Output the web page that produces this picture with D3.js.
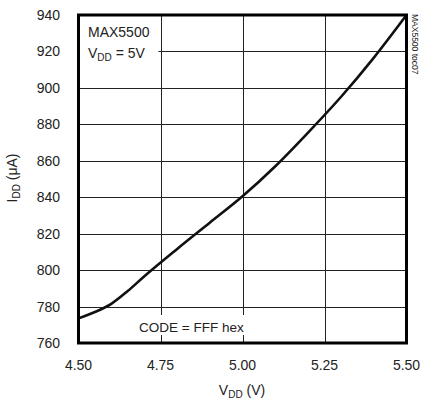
<!DOCTYPE html>
<html><head><meta charset="utf-8">
<script src="https://cdn.jsdelivr.net/npm/d3@7"></script>
<style>
html,body{margin:0;padding:0;background:#fff;}
svg{display:block;}
text{font-family:"Liberation Sans",Arial,Helvetica,sans-serif;fill:#222;}
</style></head>
<body>
<svg id="c" width="422" height="400"></svg>
<script>
const vdd = [4.50, 4.55, 4.60, 4.65, 4.70, 4.80, 4.90, 5.00, 5.10, 5.20, 5.30, 5.40, 5.50];
const idd = [773.5, 777, 781.5, 788.5, 796.5, 811.5, 826, 840.5, 857, 875.5, 895, 916.5, 940];
const xTicks = [4.50, 4.75, 5.00, 5.25, 5.50];
const yTicks = [760, 780, 800, 820, 840, 860, 880, 900, 920, 940];

const svg = d3.select("#c");
const L = 78.5, R = 406.5, T = 15, B = 343;
const x = d3.scaleLinear().domain([4.5, 5.5]).range([L, R]);
const y = d3.scaleLinear().domain([760, 940]).range([B, T]);

// grid
const g = svg.append("g");
g.selectAll("line.v").data(xTicks.slice(1, -1)).join("line")
  .attr("x1", d => Math.round(x(d)) + 0.5).attr("x2", d => Math.round(x(d)) + 0.5)
  .attr("y1", T).attr("y2", B).attr("stroke", "#222").attr("stroke-width", 1);
g.selectAll("line.h").data(yTicks.slice(1, -1)).join("line")
  .attr("y1", d => Math.round(y(d)) + 0.5).attr("y2", d => Math.round(y(d)) + 0.5)
  .attr("x1", L).attr("x2", R).attr("stroke", "#222").attr("stroke-width", 1);

// annotation backgrounds
svg.append("rect").attr("x", L).attr("y", T).attr("width", 80).attr("height", 52).attr("fill", "#fff");
svg.append("rect").attr("x", 136).attr("y", 315).attr("width", 110).attr("height", 20).attr("fill", "#fff");

// curve
const line = d3.line().x((d, i) => x(vdd[i])).y(d => y(d)).curve(d3.curveMonotoneX);
svg.append("path").attr("d", line(idd)).attr("fill", "none").attr("stroke", "#111")
  .attr("stroke-width", 2.6).attr("stroke-linejoin", "round").attr("stroke-linecap", "round");

// frame
svg.append("rect").attr("x", L).attr("y", T).attr("width", R - L).attr("height", B - T)
  .attr("fill", "none").attr("stroke", "#000").attr("stroke-width", 3);

// axes labels
svg.append("g").selectAll("text").data(yTicks).join("text")
  .attr("x", 60).attr("y", d => y(d) + 5).attr("text-anchor", "end")
  .attr("font-size", 14).text(d => d);
svg.append("g").selectAll("text").data(xTicks).join("text")
  .attr("x", d => x(d)).attr("y", 370).attr("text-anchor", "middle")
  .attr("font-size", 14).text(d => d.toFixed(2));

// annotations
svg.append("text").attr("x", 88).attr("y", 37).attr("font-size", 14).text("MAX5500");
const t2 = svg.append("text").attr("x", 88).attr("y", 58).attr("font-size", 14);
t2.append("tspan").text("V");
t2.append("tspan").attr("font-size", 10).attr("dy", 3).text("DD");
t2.append("tspan").attr("dy", -3).text(" = 5V");
svg.append("text").attr("x", 139).attr("y", 332).attr("font-size", 13.5).text("CODE = FFF hex");

// axis titles
const xt = svg.append("text").attr("x", 242).attr("y", 395).attr("text-anchor", "middle").attr("font-size", 14);
xt.append("tspan").text("V");
xt.append("tspan").attr("font-size", 10).attr("dy", 2.5).text("DD");
xt.append("tspan").attr("dy", -2.5).text(" (V)");

const yt = svg.append("text").attr("transform", "translate(17,178) rotate(-90)")
  .attr("text-anchor", "middle").attr("font-size", 14);
yt.append("tspan").text("I");
yt.append("tspan").attr("font-size", 10).attr("dy", 3).text("DD");
yt.append("tspan").attr("dy", -3).text(" (μA)");

svg.append("text").attr("transform", "translate(412,14) rotate(90)")
  .attr("font-size", 8.5).text("MAX5500 toc07");
</script>
</body></html>
